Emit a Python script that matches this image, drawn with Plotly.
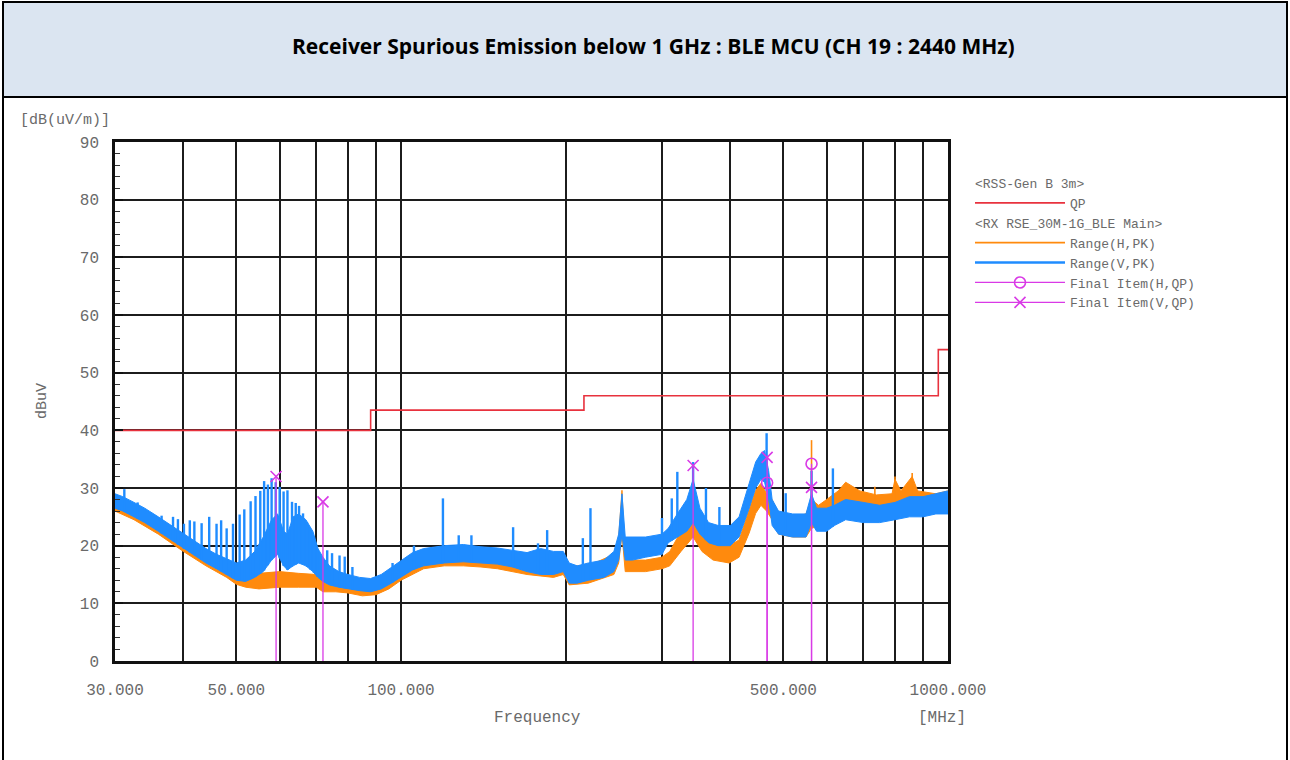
import numpy as np
import plotly.graph_objects as go

# ---------------- data ----------------
# QP limit (RSS-Gen, 3 m): breakpoints in MHz and level in dB(uV/m)
limit_f = [30, 88, 216, 960, 1000]
limit_db = [40.0, 43.5, 46.0, 54.0, 54.0]

# Range (V, PK): envelope of the peak sweep (lower / upper edge of the noise band)
v_f = [30, 31, 32.5, 34, 36, 38, 40, 42, 44, 46, 48, 50, 52, 54, 56, 58, 59.5, 61, 62,
       63.5, 65, 67, 69, 70.5, 72, 74, 77, 80, 84, 88, 92, 96, 100, 105, 110, 120, 130,
       140, 150, 160, 170, 180, 190, 198, 203, 210, 220, 235, 245, 250, 253.5, 257, 265,
       280, 300, 308, 320, 333, 342, 352, 365, 380, 400, 415, 433, 445, 455, 462, 470,
       477, 490, 520, 550, 563, 575, 600, 620, 650, 700, 750, 800, 850, 900, 950, 1000]
v_lo = [26.5, 26.0, 25.0, 24.0, 22.5, 21.0, 19.5, 18.3, 17.0, 16.0, 15.0, 14.0, 13.8, 14.5,
        15.5, 17.5, 18.5, 16.5, 15.8, 16.5, 17.0, 16.5, 15.5, 14.5, 13.8, 13.2, 12.8, 12.5,
        12.2, 12.0, 12.5, 13.5, 14.5, 15.8, 16.5, 17.0, 17.2, 17.0, 16.8, 16.3, 15.5, 15.0,
        15.0, 15.5, 13.5, 13.5, 14.0, 14.5, 15.5, 17.5, 22.0, 17.5, 17.5, 18.0, 18.5, 20.5,
        21.5, 22.5, 24.0, 22.0, 20.5, 20.0, 20.0, 21.5, 26.5, 30.0, 31.5, 31.0, 28.0, 23.5,
        22.0, 21.5, 21.5, 24.0, 22.5, 22.5, 23.5, 24.5, 24.0, 24.0, 24.5, 25.0, 25.0, 25.5,
        25.5]
v_hi = [29.0, 28.5, 27.5, 26.5, 25.0, 23.5, 22.0, 20.8, 19.5, 18.5, 17.8, 17.0, 17.5, 19.0,
        21.5, 24.5, 25.5, 22.5, 22.0, 25.0, 25.5, 24.5, 22.5, 19.5, 18.0, 16.5, 15.5, 15.0,
        14.5, 14.3, 15.0, 16.2, 17.5, 18.8, 19.5, 20.0, 20.2, 19.8, 19.6, 19.2, 18.8, 19.5,
        19.0, 19.0, 17.0, 16.5, 17.0, 17.5, 19.0, 22.0, 29.0, 21.5, 21.5, 21.5, 22.0, 23.0,
        25.5, 28.0, 31.5, 26.5, 24.0, 23.5, 23.5, 25.0, 30.8, 34.5, 36.0, 36.5, 33.0, 28.0,
        26.0, 25.5, 25.5, 29.0, 26.5, 26.5, 27.0, 28.0, 27.5, 27.0, 27.5, 28.5, 28.5, 29.0,
        29.5]

# Range (V, PK): narrow-band spikes (MHz, peak level)
v_spk_f = [31.2, 33.0, 36.5, 38.3, 39.1, 40.1, 41.1, 41.9, 43.2, 44.6, 46.0, 46.9, 48.0, 49.3,
           50.7, 51.7, 53.1, 54.2, 55.3, 56.2, 57.1, 58.0, 59.0, 60.0, 61.0, 62.0, 63.2,
           64.2, 65.1, 66.2, 67.3, 68.3, 69.3, 70.3, 73.3, 74.8, 77.2, 78.9, 81.5, 96.5,
           105.6, 119.3, 127.5, 134.5, 160.3, 178.0, 185.0, 215.0, 222.0, 300.0, 312.6,
           320.0, 342.0, 361.0, 382.0, 466.0, 505.0, 563.0, 616.0]
v_spk_db = [29.8, 27.5, 25.2, 25.0, 24.6, 23.8, 24.4, 24.2, 23.9, 25.0, 23.8, 24.4, 23.0, 23.8,
            25.4, 26.3, 27.7, 28.6, 29.5, 31.2, 30.6, 31.7, 31.0, 30.2, 29.4, 29.6, 27.6,
            27.4, 26.9, 25.6, 24.1, 22.6, 21.5, 19.5, 19.2, 18.7, 18.3, 18.1, 16.3, 17.0,
            20.0, 28.2, 21.8, 21.8, 23.2, 20.4, 22.7, 21.3, 26.5, 24.8, 28.2, 32.8, 34.5,
            30.0, 26.7, 39.5, 29.1, 33.0, 33.4]

# Range (H, PK): envelope of the peak sweep
h_f = [30, 32.5, 36, 40, 44, 48, 50, 52, 55, 60, 65, 70, 72, 76, 80, 85, 90, 95, 100, 110,
       120, 130, 140, 150, 170, 190, 198, 203, 220, 245, 250, 253.5, 257, 280, 300, 310,
       325, 342, 355, 372, 398, 415, 433, 445, 455, 466, 477, 490, 520, 550, 563, 580, 600,
       630, 650, 690, 740, 790, 800, 820, 860, 880, 950, 1000]
h_lo = [26.0, 24.5, 22.0, 19.0, 16.5, 14.5, 13.3, 12.8, 12.5, 12.8, 12.8, 12.8, 12.0, 12.0,
        11.8, 11.3, 11.5, 12.5, 14.0, 16.0, 16.5, 16.5, 16.3, 16.0, 15.0, 14.5, 15.0, 13.2,
        13.5, 15.0, 17.0, 22.0, 15.5, 15.5, 16.0, 16.5, 19.0, 21.5, 19.0, 17.5, 17.0, 18.0,
        22.2, 25.6, 27.0, 26.0, 24.5, 22.0, 21.5, 21.5, 23.0, 23.5, 24.0, 25.5, 27.0, 26.5,
        26.0, 26.3, 27.5, 26.5, 27.5, 26.5, 26.0, 26.0]
h_hi = [28.5, 27.0, 24.5, 21.5, 19.0, 17.0, 15.5, 15.0, 15.2, 15.5, 15.2, 15.0, 14.0, 13.8,
        13.5, 13.0, 13.2, 15.0, 17.0, 19.0, 19.3, 19.5, 19.2, 19.0, 18.3, 18.5, 18.5, 16.5,
        16.5, 18.5, 21.5, 29.6, 17.5, 17.5, 18.0, 19.0, 22.5, 25.5, 22.0, 20.5, 20.0, 21.0,
        26.2, 29.6, 30.8, 29.0, 28.0, 25.5, 25.0, 25.5, 28.0, 27.0, 28.0, 29.5, 31.0, 29.5,
        28.8, 29.0, 31.5, 29.5, 32.0, 29.5, 29.0, 29.5]

# Range (H, PK): narrow-band spikes
h_spk_f = [563.0, 616.0, 735.0, 800.0, 860.0]
h_spk_db = [38.3, 31.0, 30.2, 32.0, 32.6]

# Final measurements (QP)
fin_h_f = [467.0, 563.0]
fin_h_db = [30.9, 34.2]
fin_v_f = [59.1, 72.0, 342.0, 467.0, 563.0]
fin_v_db = [32.0, 27.6, 33.9, 35.3, 30.1]

# x-axis labelled ticks and grid frequencies
tick_f = [30, 50, 100, 500, 1000]
tick_txt = ["30.000", "50.000", "100.000", "500.000", "1000.000"]
grid_f = [40, 60, 70, 80, 90, 200, 300, 400, 600, 700, 800, 900]

# ---------------- styling ----------------
ORANGE = "#ff8a0d"
BLUE = "#1f8cff"
RED = "#e8323e"
MAGENTA = "#d93ae6"
TXT = "#6a6a6a"
MONO = "Liberation Mono"

W, H = 1290, 760
L, R, T, B = 115, 948, 142, 661


def px_x(p):
    return (p - L) / (R - L)


def px_y(p):
    return (B - p) / (B - T)


def spikes(fs, peaks, env_f, env_lo):
    """Vertical spike segments rising from the lower band edge to each peak."""
    base = np.interp(np.log10(fs), np.log10(env_f), env_lo)
    xs, ys = [], []
    for f, b, p in zip(fs, base, peaks):
        xs += [f, f, None]
        ys += [float(b), p, None]
    return xs, ys


def drops(fs, vals):
    xs, ys = [], []
    for f, v in zip(fs, vals):
        xs += [f, f, None]
        ys += [0, v, None]
    return xs, ys


def isolated(fs, vals):
    xs, ys = [], []
    for f, v in zip(fs, vals):
        xs += [f, None]
        ys += [v, None]
    return xs, ys


fig = go.Figure()

# limit line
fig.add_trace(go.Scatter(
    x=limit_f, y=limit_db, mode="lines", line=dict(color=RED, width=1.6, shape="hv"),
    name="QP", legendgroup="lim", legendrank=1,
    legendgrouptitle=dict(text="&lt;RSS-Gen B 3m&gt;")))

# H peak sweep (drawn first so V sits on top)
fig.add_trace(go.Scatter(x=h_f, y=h_hi, mode="lines", line=dict(color=ORANGE, width=1),
                         showlegend=False, hoverinfo="skip"))
fig.add_trace(go.Scatter(x=h_f, y=h_lo, mode="lines", line=dict(color=ORANGE, width=1),
                         fill="tonexty", fillcolor=ORANGE, showlegend=False, hoverinfo="skip"))
hx, hy = spikes(h_spk_f, h_spk_db, h_f, h_lo)
fig.add_trace(go.Scatter(x=hx, y=hy, mode="lines", line=dict(color=ORANGE, width=1.6),
                         name="Range(H,PK)", legendgroup="rx", legendrank=2,
                         legendgrouptitle=dict(text="&lt;RX RSE_30M-1G_BLE Main&gt;")))

# V peak sweep
fig.add_trace(go.Scatter(x=v_f, y=v_hi, mode="lines", line=dict(color=BLUE, width=1),
                         showlegend=False, hoverinfo="skip"))
fig.add_trace(go.Scatter(x=v_f, y=v_lo, mode="lines", line=dict(color=BLUE, width=1),
                         fill="tonexty", fillcolor=BLUE, showlegend=False, hoverinfo="skip"))
vx, vy = spikes(v_spk_f, v_spk_db, v_f, v_lo)
fig.add_trace(go.Scatter(x=vx, y=vy, mode="lines", line=dict(color=BLUE, width=2.4),
                         name="Range(V,PK)", legendgroup="rx", legendrank=3))

# final QP items: drop lines + markers
for fs, vals, sym, nm, rk in [(fin_h_f, fin_h_db, "circle-open", "Final Item(H,QP)", 4),
                              (fin_v_f, fin_v_db, "x-thin-open", "Final Item(V,QP)", 5)]:
    dx, dy = drops(fs, vals)
    fig.add_trace(go.Scatter(x=dx, y=dy, mode="lines", line=dict(color=MAGENTA, width=1.3),
                             showlegend=False, hoverinfo="skip"))
    mx, my = isolated(fs, vals)
    fig.add_trace(go.Scatter(
        x=mx, y=my, mode="lines+markers", connectgaps=False,
        line=dict(color=MAGENTA, width=1.3),
        marker=dict(symbol=sym, size=11, color=MAGENTA, line=dict(color=MAGENTA, width=1.6)),
        name=nm, legendgroup="rx", legendrank=rk))

GRID = "#1c1c1c"
fig.update_xaxes(
    type="log", range=[np.log10(30), np.log10(1000)],
    tickmode="array", tickvals=tick_f, ticktext=tick_txt,
    ticks="", showgrid=True, gridcolor=GRID, gridwidth=1.6,
    minor=dict(tickmode="array", tickvals=grid_f, showgrid=True, gridcolor=GRID, gridwidth=1.6),
    showline=True, linecolor="#111", linewidth=2.5, mirror=True,
    tickfont=dict(family=MONO, size=16, color=TXT), ticklabelstandoff=12,
    zeroline=False)
fig.update_yaxes(
    range=[0, 90], dtick=10, ticks="inside", ticklen=8, tickwidth=2, tickcolor="#111",
    minor=dict(dtick=2, ticks="inside", ticklen=5, tickcolor="#333", tickwidth=1.2),
    showgrid=True, gridcolor=GRID, gridwidth=1.6,
    showline=True, linecolor="#111", linewidth=2.5, mirror=True,
    tickfont=dict(family=MONO, size=16, color=TXT), ticklabelstandoff=10,
    zeroline=False)


def label(px, py, text, size, **kw):
    d = dict(x=px_x(px), y=px_y(py), xref="paper", yref="paper", showarrow=False,
             xanchor="center", yanchor="middle", text=text,
             font=dict(family=MONO, size=size, color=TXT))
    d.update(kw)
    return d


annotations = [
    label(653, 46, "<b>Receiver Spurious Emission below 1 GHz : BLE MCU (CH 19 : 2440 MHz)</b>",
          21, font=dict(family="Open Sans", size=21, color="#000")),
    label(18, 120, "[dB(uV/m)]", 15, xanchor="left"),
    label(42, 401, "dBuV", 15, textangle=-90),
    label(537, 718, "Frequency", 16),
    label(942, 718, "[MHz]", 16),
]

shapes = [
    # title box
    dict(type="rect", xref="paper", yref="paper", layer="below",
         x0=px_x(3), x1=px_x(1287), y0=px_y(97), y1=px_y(2),
         fillcolor="#dbe5f1", line=dict(color="#000", width=2)),
    # outer frame
    dict(type="rect", xref="paper", yref="paper", layer="below",
         x0=px_x(3), x1=px_x(1287), y0=px_y(770), y1=px_y(2),
         fillcolor="rgba(0,0,0,0)", line=dict(color="#000", width=2)),
]

fig.update_layout(
    width=W, height=H, autosize=False,
    margin=dict(l=L, r=W - R, t=T, b=H - B),
    paper_bgcolor="white", plot_bgcolor="white",
    annotations=annotations, shapes=shapes,
    legend=dict(x=px_x(970), y=px_y(168), xanchor="left", yanchor="top",
                font=dict(family=MONO, size=13, color=TXT),
                grouptitlefont=dict(family=MONO, size=13, color=TXT),
                itemwidth=90, tracegroupgap=0, bgcolor="rgba(0,0,0,0)",
                traceorder="grouped"),
    showlegend=True,
)

fig.write_html("out.html")
